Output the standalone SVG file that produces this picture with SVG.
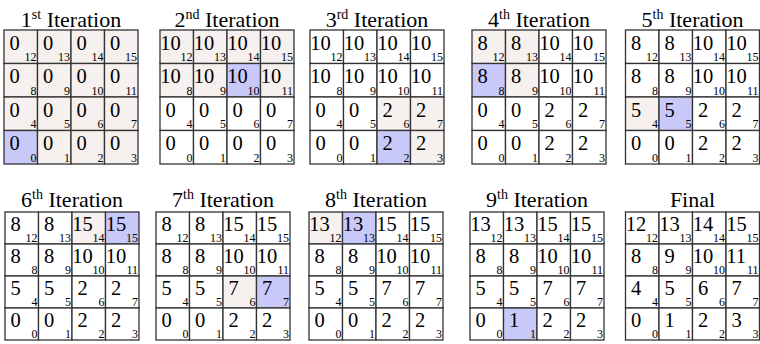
<svg xmlns="http://www.w3.org/2000/svg" width="760" height="344" viewBox="0 0 760 344">
<style>
.c{stroke:#333;stroke-width:1.3;fill:#fff}
.p{fill:#f6f0ef}
.b{fill:#c9c9f9}
text{font-family:'Liberation Serif','Times New Roman','DejaVu Serif',serif;fill:#000}
.v{font-size:20.5px}
.s{font-size:12px;text-anchor:end}
.t{font-size:22px;text-anchor:middle}
.sup{font-size:14px}
</style>
<rect width="760" height="344" fill="#fff"/>
<g id="it1" transform="translate(4,30)">
<text class="t" x="67" y="-3">1<tspan class="sup" dy="-8">st</tspan><tspan dy="8"> Iteration</tspan></text>
<rect class="c p" x="0" y="0" width="33.5" height="33.5"/><rect class="c p" x="33.5" y="0" width="33.5" height="33.5"/><rect class="c p" x="67" y="0" width="33.5" height="33.5"/><rect class="c p" x="100.5" y="0" width="33.5" height="33.5"/>
<rect class="c p" x="0" y="33.5" width="33.5" height="33.5"/><rect class="c p" x="33.5" y="33.5" width="33.5" height="33.5"/><rect class="c p" x="67" y="33.5" width="33.5" height="33.5"/><rect class="c p" x="100.5" y="33.5" width="33.5" height="33.5"/>
<rect class="c p" x="0" y="67" width="33.5" height="33.5"/><rect class="c p" x="33.5" y="67" width="33.5" height="33.5"/><rect class="c p" x="67" y="67" width="33.5" height="33.5"/><rect class="c p" x="100.5" y="67" width="33.5" height="33.5"/>
<rect class="c b" x="0" y="100.5" width="33.5" height="33.5"/><rect class="c p" x="33.5" y="100.5" width="33.5" height="33.5"/><rect class="c p" x="67" y="100.5" width="33.5" height="33.5"/><rect class="c p" x="100.5" y="100.5" width="33.5" height="33.5"/>
<text class="v" x="5.5" y="19.5">0</text><text class="v" x="39" y="19.5">0</text><text class="v" x="72.5" y="19.5">0</text><text class="v" x="106" y="19.5">0</text>
<text class="v" x="5.5" y="53">0</text><text class="v" x="39" y="53">0</text><text class="v" x="72.5" y="53">0</text><text class="v" x="106" y="53">0</text>
<text class="v" x="5.5" y="86.5">0</text><text class="v" x="39" y="86.5">0</text><text class="v" x="72.5" y="86.5">0</text><text class="v" x="106" y="86.5">0</text>
<text class="v" x="5.5" y="120">0</text><text class="v" x="39" y="120">0</text><text class="v" x="72.5" y="120">0</text><text class="v" x="106" y="120">0</text>
<text class="s" x="32.5" y="31">12</text><text class="s" x="66" y="31">13</text><text class="s" x="99.5" y="31">14</text><text class="s" x="133" y="31">15</text>
<text class="s" x="32.5" y="64.5">8</text><text class="s" x="66" y="64.5">9</text><text class="s" x="99.5" y="64.5">10</text><text class="s" x="133" y="64.5">11</text>
<text class="s" x="32.5" y="98">4</text><text class="s" x="66" y="98">5</text><text class="s" x="99.5" y="98">6</text><text class="s" x="133" y="98">7</text>
<text class="s" x="32.5" y="131.5">0</text><text class="s" x="66" y="131.5">1</text><text class="s" x="99.5" y="131.5">2</text><text class="s" x="133" y="131.5">3</text>
</g>
<g id="it2" transform="translate(160,30)">
<text class="t" x="67" y="-3">2<tspan class="sup" dy="-8">nd</tspan><tspan dy="8"> Iteration</tspan></text>
<rect class="c p" x="0" y="0" width="33.5" height="33.5"/><rect class="c p" x="33.5" y="0" width="33.5" height="33.5"/><rect class="c p" x="67" y="0" width="33.5" height="33.5"/><rect class="c p" x="100.5" y="0" width="33.5" height="33.5"/>
<rect class="c p" x="0" y="33.5" width="33.5" height="33.5"/><rect class="c p" x="33.5" y="33.5" width="33.5" height="33.5"/><rect class="c b" x="67" y="33.5" width="33.5" height="33.5"/><rect class="c p" x="100.5" y="33.5" width="33.5" height="33.5"/>
<rect class="c" x="0" y="67" width="33.5" height="33.5"/><rect class="c" x="33.5" y="67" width="33.5" height="33.5"/><rect class="c" x="67" y="67" width="33.5" height="33.5"/><rect class="c" x="100.5" y="67" width="33.5" height="33.5"/>
<rect class="c" x="0" y="100.5" width="33.5" height="33.5"/><rect class="c" x="33.5" y="100.5" width="33.5" height="33.5"/><rect class="c" x="67" y="100.5" width="33.5" height="33.5"/><rect class="c" x="100.5" y="100.5" width="33.5" height="33.5"/>
<text class="v" x="0.3" y="19.5">10</text><text class="v" x="33.8" y="19.5">10</text><text class="v" x="67.3" y="19.5">10</text><text class="v" x="100.8" y="19.5">10</text>
<text class="v" x="0.3" y="53">10</text><text class="v" x="33.8" y="53">10</text><text class="v" x="67.3" y="53">10</text><text class="v" x="100.8" y="53">10</text>
<text class="v" x="5.5" y="86.5">0</text><text class="v" x="39" y="86.5">0</text><text class="v" x="72.5" y="86.5">0</text><text class="v" x="106" y="86.5">0</text>
<text class="v" x="5.5" y="120">0</text><text class="v" x="39" y="120">0</text><text class="v" x="72.5" y="120">0</text><text class="v" x="106" y="120">0</text>
<text class="s" x="32.5" y="31">12</text><text class="s" x="66" y="31">13</text><text class="s" x="99.5" y="31">14</text><text class="s" x="133" y="31">15</text>
<text class="s" x="32.5" y="64.5">8</text><text class="s" x="66" y="64.5">9</text><text class="s" x="99.5" y="64.5">10</text><text class="s" x="133" y="64.5">11</text>
<text class="s" x="32.5" y="98">4</text><text class="s" x="66" y="98">5</text><text class="s" x="99.5" y="98">6</text><text class="s" x="133" y="98">7</text>
<text class="s" x="32.5" y="131.5">0</text><text class="s" x="66" y="131.5">1</text><text class="s" x="99.5" y="131.5">2</text><text class="s" x="133" y="131.5">3</text>
</g>
<g id="it3" transform="translate(310,30)">
<text class="t" x="67" y="-3">3<tspan class="sup" dy="-8">rd</tspan><tspan dy="8"> Iteration</tspan></text>
<rect class="c" x="0" y="0" width="33.5" height="33.5"/><rect class="c" x="33.5" y="0" width="33.5" height="33.5"/><rect class="c" x="67" y="0" width="33.5" height="33.5"/><rect class="c" x="100.5" y="0" width="33.5" height="33.5"/>
<rect class="c" x="0" y="33.5" width="33.5" height="33.5"/><rect class="c" x="33.5" y="33.5" width="33.5" height="33.5"/><rect class="c" x="67" y="33.5" width="33.5" height="33.5"/><rect class="c" x="100.5" y="33.5" width="33.5" height="33.5"/>
<rect class="c" x="0" y="67" width="33.5" height="33.5"/><rect class="c" x="33.5" y="67" width="33.5" height="33.5"/><rect class="c p" x="67" y="67" width="33.5" height="33.5"/><rect class="c p" x="100.5" y="67" width="33.5" height="33.5"/>
<rect class="c" x="0" y="100.5" width="33.5" height="33.5"/><rect class="c" x="33.5" y="100.5" width="33.5" height="33.5"/><rect class="c b" x="67" y="100.5" width="33.5" height="33.5"/><rect class="c p" x="100.5" y="100.5" width="33.5" height="33.5"/>
<text class="v" x="0.3" y="19.5">10</text><text class="v" x="33.8" y="19.5">10</text><text class="v" x="67.3" y="19.5">10</text><text class="v" x="100.8" y="19.5">10</text>
<text class="v" x="0.3" y="53">10</text><text class="v" x="33.8" y="53">10</text><text class="v" x="67.3" y="53">10</text><text class="v" x="100.8" y="53">10</text>
<text class="v" x="5.5" y="86.5">0</text><text class="v" x="39" y="86.5">0</text><text class="v" x="72.5" y="86.5">2</text><text class="v" x="106" y="86.5">2</text>
<text class="v" x="5.5" y="120">0</text><text class="v" x="39" y="120">0</text><text class="v" x="72.5" y="120">2</text><text class="v" x="106" y="120">2</text>
<text class="s" x="32.5" y="31">12</text><text class="s" x="66" y="31">13</text><text class="s" x="99.5" y="31">14</text><text class="s" x="133" y="31">15</text>
<text class="s" x="32.5" y="64.5">8</text><text class="s" x="66" y="64.5">9</text><text class="s" x="99.5" y="64.5">10</text><text class="s" x="133" y="64.5">11</text>
<text class="s" x="32.5" y="98">4</text><text class="s" x="66" y="98">5</text><text class="s" x="99.5" y="98">6</text><text class="s" x="133" y="98">7</text>
<text class="s" x="32.5" y="131.5">0</text><text class="s" x="66" y="131.5">1</text><text class="s" x="99.5" y="131.5">2</text><text class="s" x="133" y="131.5">3</text>
</g>
<g id="it4" transform="translate(472,30)">
<text class="t" x="67" y="-3">4<tspan class="sup" dy="-8">th</tspan><tspan dy="8"> Iteration</tspan></text>
<rect class="c p" x="0" y="0" width="33.5" height="33.5"/><rect class="c p" x="33.5" y="0" width="33.5" height="33.5"/><rect class="c" x="67" y="0" width="33.5" height="33.5"/><rect class="c" x="100.5" y="0" width="33.5" height="33.5"/>
<rect class="c b" x="0" y="33.5" width="33.5" height="33.5"/><rect class="c p" x="33.5" y="33.5" width="33.5" height="33.5"/><rect class="c" x="67" y="33.5" width="33.5" height="33.5"/><rect class="c" x="100.5" y="33.5" width="33.5" height="33.5"/>
<rect class="c" x="0" y="67" width="33.5" height="33.5"/><rect class="c" x="33.5" y="67" width="33.5" height="33.5"/><rect class="c" x="67" y="67" width="33.5" height="33.5"/><rect class="c" x="100.5" y="67" width="33.5" height="33.5"/>
<rect class="c" x="0" y="100.5" width="33.5" height="33.5"/><rect class="c" x="33.5" y="100.5" width="33.5" height="33.5"/><rect class="c" x="67" y="100.5" width="33.5" height="33.5"/><rect class="c" x="100.5" y="100.5" width="33.5" height="33.5"/>
<text class="v" x="5.5" y="19.5">8</text><text class="v" x="39" y="19.5">8</text><text class="v" x="67.3" y="19.5">10</text><text class="v" x="100.8" y="19.5">10</text>
<text class="v" x="5.5" y="53">8</text><text class="v" x="39" y="53">8</text><text class="v" x="67.3" y="53">10</text><text class="v" x="100.8" y="53">10</text>
<text class="v" x="5.5" y="86.5">0</text><text class="v" x="39" y="86.5">0</text><text class="v" x="72.5" y="86.5">2</text><text class="v" x="106" y="86.5">2</text>
<text class="v" x="5.5" y="120">0</text><text class="v" x="39" y="120">0</text><text class="v" x="72.5" y="120">2</text><text class="v" x="106" y="120">2</text>
<text class="s" x="32.5" y="31">12</text><text class="s" x="66" y="31">13</text><text class="s" x="99.5" y="31">14</text><text class="s" x="133" y="31">15</text>
<text class="s" x="32.5" y="64.5">8</text><text class="s" x="66" y="64.5">9</text><text class="s" x="99.5" y="64.5">10</text><text class="s" x="133" y="64.5">11</text>
<text class="s" x="32.5" y="98">4</text><text class="s" x="66" y="98">5</text><text class="s" x="99.5" y="98">6</text><text class="s" x="133" y="98">7</text>
<text class="s" x="32.5" y="131.5">0</text><text class="s" x="66" y="131.5">1</text><text class="s" x="99.5" y="131.5">2</text><text class="s" x="133" y="131.5">3</text>
</g>
<g id="it5" transform="translate(625.5,30)">
<text class="t" x="67" y="-3">5<tspan class="sup" dy="-8">th</tspan><tspan dy="8"> Iteration</tspan></text>
<rect class="c" x="0" y="0" width="33.5" height="33.5"/><rect class="c" x="33.5" y="0" width="33.5" height="33.5"/><rect class="c" x="67" y="0" width="33.5" height="33.5"/><rect class="c" x="100.5" y="0" width="33.5" height="33.5"/>
<rect class="c" x="0" y="33.5" width="33.5" height="33.5"/><rect class="c" x="33.5" y="33.5" width="33.5" height="33.5"/><rect class="c" x="67" y="33.5" width="33.5" height="33.5"/><rect class="c" x="100.5" y="33.5" width="33.5" height="33.5"/>
<rect class="c p" x="0" y="67" width="33.5" height="33.5"/><rect class="c b" x="33.5" y="67" width="33.5" height="33.5"/><rect class="c" x="67" y="67" width="33.5" height="33.5"/><rect class="c" x="100.5" y="67" width="33.5" height="33.5"/>
<rect class="c" x="0" y="100.5" width="33.5" height="33.5"/><rect class="c" x="33.5" y="100.5" width="33.5" height="33.5"/><rect class="c" x="67" y="100.5" width="33.5" height="33.5"/><rect class="c" x="100.5" y="100.5" width="33.5" height="33.5"/>
<text class="v" x="5.5" y="19.5">8</text><text class="v" x="39" y="19.5">8</text><text class="v" x="67.3" y="19.5">10</text><text class="v" x="100.8" y="19.5">10</text>
<text class="v" x="5.5" y="53">8</text><text class="v" x="39" y="53">8</text><text class="v" x="67.3" y="53">10</text><text class="v" x="100.8" y="53">10</text>
<text class="v" x="5.5" y="86.5">5</text><text class="v" x="39" y="86.5">5</text><text class="v" x="72.5" y="86.5">2</text><text class="v" x="106" y="86.5">2</text>
<text class="v" x="5.5" y="120">0</text><text class="v" x="39" y="120">0</text><text class="v" x="72.5" y="120">2</text><text class="v" x="106" y="120">2</text>
<text class="s" x="32.5" y="31">12</text><text class="s" x="66" y="31">13</text><text class="s" x="99.5" y="31">14</text><text class="s" x="133" y="31">15</text>
<text class="s" x="32.5" y="64.5">8</text><text class="s" x="66" y="64.5">9</text><text class="s" x="99.5" y="64.5">10</text><text class="s" x="133" y="64.5">11</text>
<text class="s" x="32.5" y="98">4</text><text class="s" x="66" y="98">5</text><text class="s" x="99.5" y="98">6</text><text class="s" x="133" y="98">7</text>
<text class="s" x="32.5" y="131.5">0</text><text class="s" x="66" y="131.5">1</text><text class="s" x="99.5" y="131.5">2</text><text class="s" x="133" y="131.5">3</text>
</g>
<g id="it6" transform="translate(5,212)">
<text class="t" x="67" y="-5">6<tspan class="sup" dy="-8">th</tspan><tspan dy="8"> Iteration</tspan></text>
<rect class="c" x="0" y="0" width="33.5" height="32"/><rect class="c" x="33.5" y="0" width="33.5" height="32"/><rect class="c p" x="67" y="0" width="33.5" height="32"/><rect class="c b" x="100.5" y="0" width="33.5" height="32"/>
<rect class="c" x="0" y="32" width="33.5" height="32"/><rect class="c" x="33.5" y="32" width="33.5" height="32"/><rect class="c" x="67" y="32" width="33.5" height="32"/><rect class="c" x="100.5" y="32" width="33.5" height="32"/>
<rect class="c" x="0" y="64" width="33.5" height="32"/><rect class="c" x="33.5" y="64" width="33.5" height="32"/><rect class="c" x="67" y="64" width="33.5" height="32"/><rect class="c" x="100.5" y="64" width="33.5" height="32"/>
<rect class="c" x="0" y="96" width="33.5" height="32"/><rect class="c" x="33.5" y="96" width="33.5" height="32"/><rect class="c" x="67" y="96" width="33.5" height="32"/><rect class="c" x="100.5" y="96" width="33.5" height="32"/>
<text class="v" x="5.5" y="19">8</text><text class="v" x="39" y="19">8</text><text class="v" x="67.3" y="19">15</text><text class="v" x="100.8" y="19">15</text>
<text class="v" x="5.5" y="51">8</text><text class="v" x="39" y="51">8</text><text class="v" x="67.3" y="51">10</text><text class="v" x="100.8" y="51">10</text>
<text class="v" x="5.5" y="83">5</text><text class="v" x="39" y="83">5</text><text class="v" x="72.5" y="83">2</text><text class="v" x="106" y="83">2</text>
<text class="v" x="5.5" y="115">0</text><text class="v" x="39" y="115">0</text><text class="v" x="72.5" y="115">2</text><text class="v" x="106" y="115">2</text>
<text class="s" x="32.5" y="29.5">12</text><text class="s" x="66" y="29.5">13</text><text class="s" x="99.5" y="29.5">14</text><text class="s" x="133" y="29.5">15</text>
<text class="s" x="32.5" y="61.5">8</text><text class="s" x="66" y="61.5">9</text><text class="s" x="99.5" y="61.5">10</text><text class="s" x="133" y="61.5">11</text>
<text class="s" x="32.5" y="93.5">4</text><text class="s" x="66" y="93.5">5</text><text class="s" x="99.5" y="93.5">6</text><text class="s" x="133" y="93.5">7</text>
<text class="s" x="32.5" y="125.5">0</text><text class="s" x="66" y="125.5">1</text><text class="s" x="99.5" y="125.5">2</text><text class="s" x="133" y="125.5">3</text>
</g>
<g id="it7" transform="translate(156,212)">
<text class="t" x="67" y="-5">7<tspan class="sup" dy="-8">th</tspan><tspan dy="8"> Iteration</tspan></text>
<rect class="c" x="0" y="0" width="33.5" height="32"/><rect class="c" x="33.5" y="0" width="33.5" height="32"/><rect class="c" x="67" y="0" width="33.5" height="32"/><rect class="c" x="100.5" y="0" width="33.5" height="32"/>
<rect class="c" x="0" y="32" width="33.5" height="32"/><rect class="c" x="33.5" y="32" width="33.5" height="32"/><rect class="c" x="67" y="32" width="33.5" height="32"/><rect class="c" x="100.5" y="32" width="33.5" height="32"/>
<rect class="c" x="0" y="64" width="33.5" height="32"/><rect class="c" x="33.5" y="64" width="33.5" height="32"/><rect class="c p" x="67" y="64" width="33.5" height="32"/><rect class="c b" x="100.5" y="64" width="33.5" height="32"/>
<rect class="c" x="0" y="96" width="33.5" height="32"/><rect class="c" x="33.5" y="96" width="33.5" height="32"/><rect class="c" x="67" y="96" width="33.5" height="32"/><rect class="c" x="100.5" y="96" width="33.5" height="32"/>
<text class="v" x="5.5" y="19">8</text><text class="v" x="39" y="19">8</text><text class="v" x="67.3" y="19">15</text><text class="v" x="100.8" y="19">15</text>
<text class="v" x="5.5" y="51">8</text><text class="v" x="39" y="51">8</text><text class="v" x="67.3" y="51">10</text><text class="v" x="100.8" y="51">10</text>
<text class="v" x="5.5" y="83">5</text><text class="v" x="39" y="83">5</text><text class="v" x="72.5" y="83">7</text><text class="v" x="106" y="83">7</text>
<text class="v" x="5.5" y="115">0</text><text class="v" x="39" y="115">0</text><text class="v" x="72.5" y="115">2</text><text class="v" x="106" y="115">2</text>
<text class="s" x="32.5" y="29.5">12</text><text class="s" x="66" y="29.5">13</text><text class="s" x="99.5" y="29.5">14</text><text class="s" x="133" y="29.5">15</text>
<text class="s" x="32.5" y="61.5">8</text><text class="s" x="66" y="61.5">9</text><text class="s" x="99.5" y="61.5">10</text><text class="s" x="133" y="61.5">11</text>
<text class="s" x="32.5" y="93.5">4</text><text class="s" x="66" y="93.5">5</text><text class="s" x="99.5" y="93.5">6</text><text class="s" x="133" y="93.5">7</text>
<text class="s" x="32.5" y="125.5">0</text><text class="s" x="66" y="125.5">1</text><text class="s" x="99.5" y="125.5">2</text><text class="s" x="133" y="125.5">3</text>
</g>
<g id="it8" transform="translate(309,212)">
<text class="t" x="67" y="-5">8<tspan class="sup" dy="-8">th</tspan><tspan dy="8"> Iteration</tspan></text>
<rect class="c p" x="0" y="0" width="33.5" height="32"/><rect class="c b" x="33.5" y="0" width="33.5" height="32"/><rect class="c" x="67" y="0" width="33.5" height="32"/><rect class="c" x="100.5" y="0" width="33.5" height="32"/>
<rect class="c" x="0" y="32" width="33.5" height="32"/><rect class="c" x="33.5" y="32" width="33.5" height="32"/><rect class="c" x="67" y="32" width="33.5" height="32"/><rect class="c" x="100.5" y="32" width="33.5" height="32"/>
<rect class="c" x="0" y="64" width="33.5" height="32"/><rect class="c" x="33.5" y="64" width="33.5" height="32"/><rect class="c" x="67" y="64" width="33.5" height="32"/><rect class="c" x="100.5" y="64" width="33.5" height="32"/>
<rect class="c" x="0" y="96" width="33.5" height="32"/><rect class="c" x="33.5" y="96" width="33.5" height="32"/><rect class="c" x="67" y="96" width="33.5" height="32"/><rect class="c" x="100.5" y="96" width="33.5" height="32"/>
<text class="v" x="0.3" y="19">13</text><text class="v" x="33.8" y="19">13</text><text class="v" x="67.3" y="19">15</text><text class="v" x="100.8" y="19">15</text>
<text class="v" x="5.5" y="51">8</text><text class="v" x="39" y="51">8</text><text class="v" x="67.3" y="51">10</text><text class="v" x="100.8" y="51">10</text>
<text class="v" x="5.5" y="83">5</text><text class="v" x="39" y="83">5</text><text class="v" x="72.5" y="83">7</text><text class="v" x="106" y="83">7</text>
<text class="v" x="5.5" y="115">0</text><text class="v" x="39" y="115">0</text><text class="v" x="72.5" y="115">2</text><text class="v" x="106" y="115">2</text>
<text class="s" x="32.5" y="29.5">12</text><text class="s" x="66" y="29.5">13</text><text class="s" x="99.5" y="29.5">14</text><text class="s" x="133" y="29.5">15</text>
<text class="s" x="32.5" y="61.5">8</text><text class="s" x="66" y="61.5">9</text><text class="s" x="99.5" y="61.5">10</text><text class="s" x="133" y="61.5">11</text>
<text class="s" x="32.5" y="93.5">4</text><text class="s" x="66" y="93.5">5</text><text class="s" x="99.5" y="93.5">6</text><text class="s" x="133" y="93.5">7</text>
<text class="s" x="32.5" y="125.5">0</text><text class="s" x="66" y="125.5">1</text><text class="s" x="99.5" y="125.5">2</text><text class="s" x="133" y="125.5">3</text>
</g>
<g id="it9" transform="translate(470,212)">
<text class="t" x="67" y="-5">9<tspan class="sup" dy="-8">th</tspan><tspan dy="8"> Iteration</tspan></text>
<rect class="c" x="0" y="0" width="33.5" height="32"/><rect class="c" x="33.5" y="0" width="33.5" height="32"/><rect class="c" x="67" y="0" width="33.5" height="32"/><rect class="c" x="100.5" y="0" width="33.5" height="32"/>
<rect class="c" x="0" y="32" width="33.5" height="32"/><rect class="c" x="33.5" y="32" width="33.5" height="32"/><rect class="c" x="67" y="32" width="33.5" height="32"/><rect class="c" x="100.5" y="32" width="33.5" height="32"/>
<rect class="c" x="0" y="64" width="33.5" height="32"/><rect class="c" x="33.5" y="64" width="33.5" height="32"/><rect class="c" x="67" y="64" width="33.5" height="32"/><rect class="c" x="100.5" y="64" width="33.5" height="32"/>
<rect class="c" x="0" y="96" width="33.5" height="32"/><rect class="c b" x="33.5" y="96" width="33.5" height="32"/><rect class="c" x="67" y="96" width="33.5" height="32"/><rect class="c" x="100.5" y="96" width="33.5" height="32"/>
<text class="v" x="0.3" y="19">13</text><text class="v" x="33.8" y="19">13</text><text class="v" x="67.3" y="19">15</text><text class="v" x="100.8" y="19">15</text>
<text class="v" x="5.5" y="51">8</text><text class="v" x="39" y="51">8</text><text class="v" x="67.3" y="51">10</text><text class="v" x="100.8" y="51">10</text>
<text class="v" x="5.5" y="83">5</text><text class="v" x="39" y="83">5</text><text class="v" x="72.5" y="83">7</text><text class="v" x="106" y="83">7</text>
<text class="v" x="5.5" y="115">0</text><text class="v" x="39" y="115">1</text><text class="v" x="72.5" y="115">2</text><text class="v" x="106" y="115">2</text>
<text class="s" x="32.5" y="29.5">12</text><text class="s" x="66" y="29.5">13</text><text class="s" x="99.5" y="29.5">14</text><text class="s" x="133" y="29.5">15</text>
<text class="s" x="32.5" y="61.5">8</text><text class="s" x="66" y="61.5">9</text><text class="s" x="99.5" y="61.5">10</text><text class="s" x="133" y="61.5">11</text>
<text class="s" x="32.5" y="93.5">4</text><text class="s" x="66" y="93.5">5</text><text class="s" x="99.5" y="93.5">6</text><text class="s" x="133" y="93.5">7</text>
<text class="s" x="32.5" y="125.5">0</text><text class="s" x="66" y="125.5">1</text><text class="s" x="99.5" y="125.5">2</text><text class="s" x="133" y="125.5">3</text>
</g>
<g id="final" transform="translate(625.5,212)">
<text class="t" x="67" y="-5">Final</text>
<rect class="c" x="0" y="0" width="33.5" height="32"/><rect class="c" x="33.5" y="0" width="33.5" height="32"/><rect class="c" x="67" y="0" width="33.5" height="32"/><rect class="c" x="100.5" y="0" width="33.5" height="32"/>
<rect class="c" x="0" y="32" width="33.5" height="32"/><rect class="c" x="33.5" y="32" width="33.5" height="32"/><rect class="c" x="67" y="32" width="33.5" height="32"/><rect class="c" x="100.5" y="32" width="33.5" height="32"/>
<rect class="c" x="0" y="64" width="33.5" height="32"/><rect class="c" x="33.5" y="64" width="33.5" height="32"/><rect class="c" x="67" y="64" width="33.5" height="32"/><rect class="c" x="100.5" y="64" width="33.5" height="32"/>
<rect class="c" x="0" y="96" width="33.5" height="32"/><rect class="c" x="33.5" y="96" width="33.5" height="32"/><rect class="c" x="67" y="96" width="33.5" height="32"/><rect class="c" x="100.5" y="96" width="33.5" height="32"/>
<text class="v" x="0.3" y="19">12</text><text class="v" x="33.8" y="19">13</text><text class="v" x="67.3" y="19">14</text><text class="v" x="100.8" y="19">15</text>
<text class="v" x="5.5" y="51">8</text><text class="v" x="39" y="51">9</text><text class="v" x="67.3" y="51">10</text><text class="v" x="100.8" y="51">11</text>
<text class="v" x="5.5" y="83">4</text><text class="v" x="39" y="83">5</text><text class="v" x="72.5" y="83">6</text><text class="v" x="106" y="83">7</text>
<text class="v" x="5.5" y="115">0</text><text class="v" x="39" y="115">1</text><text class="v" x="72.5" y="115">2</text><text class="v" x="106" y="115">3</text>
<text class="s" x="32.5" y="29.5">12</text><text class="s" x="66" y="29.5">13</text><text class="s" x="99.5" y="29.5">14</text><text class="s" x="133" y="29.5">15</text>
<text class="s" x="32.5" y="61.5">8</text><text class="s" x="66" y="61.5">9</text><text class="s" x="99.5" y="61.5">10</text><text class="s" x="133" y="61.5">11</text>
<text class="s" x="32.5" y="93.5">4</text><text class="s" x="66" y="93.5">5</text><text class="s" x="99.5" y="93.5">6</text><text class="s" x="133" y="93.5">7</text>
<text class="s" x="32.5" y="125.5">0</text><text class="s" x="66" y="125.5">1</text><text class="s" x="99.5" y="125.5">2</text><text class="s" x="133" y="125.5">3</text>
</g>
</svg>
